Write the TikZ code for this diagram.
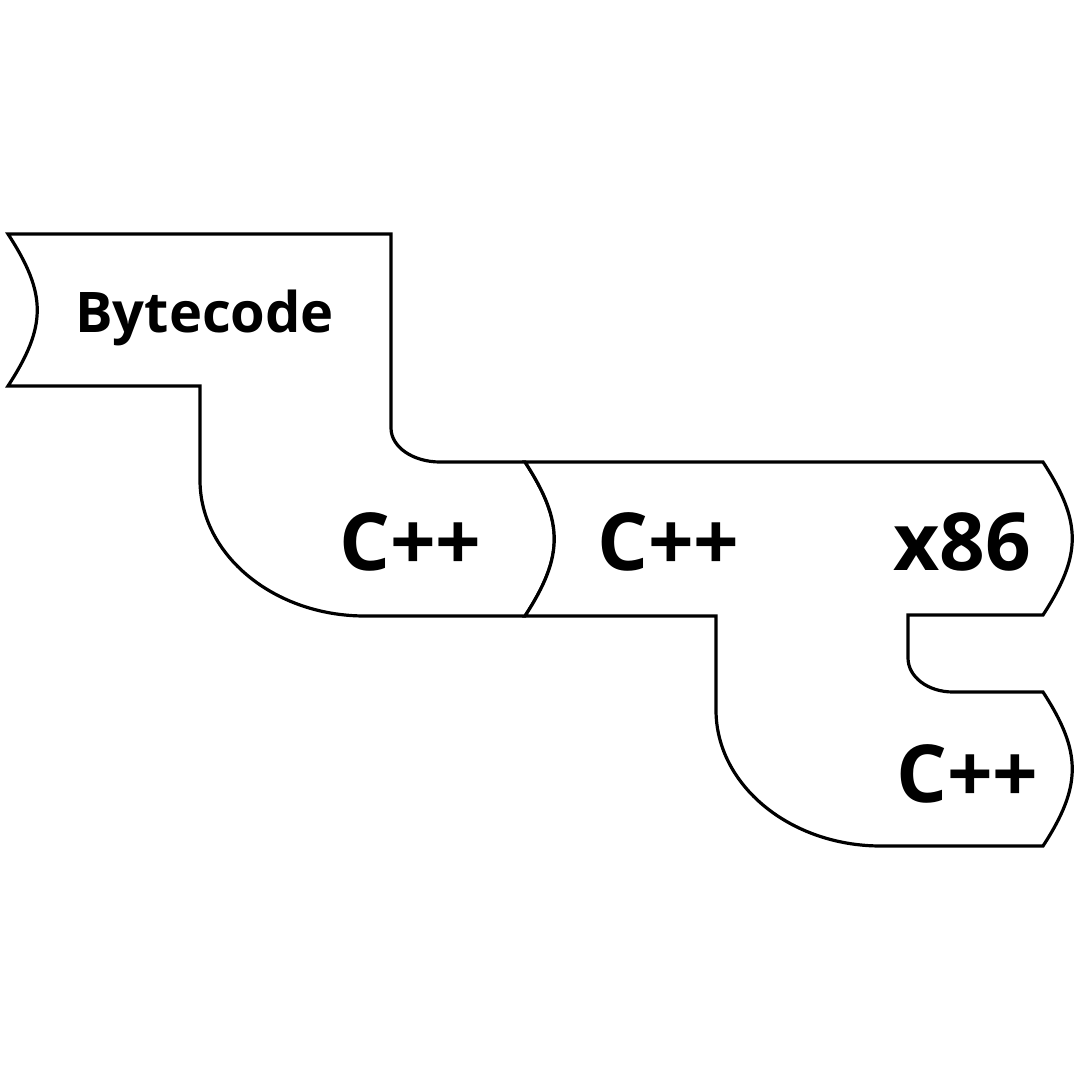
\documentclass[tikz,border=0pt]{standalone}
\usepackage{fontspec}
\setmainfont{Open Sans}
\begin{document}
\begin{tikzpicture}[x=1pt,y=-1pt,
  tshape/.style={draw=black,line width=3.2pt,line join=miter,fill=white},
  big/.style={inner sep=0pt,anchor=base west,font=\bfseries\fontsize{80}{84}\selectfont},
  small/.style={inner sep=0pt,anchor=base west,font=\bfseries\fontsize{56}{60}\selectfont}]
\useasboundingbox[fill=white] (0,0) rectangle (1080,1080);
% shape 1: Bytecode -> C++
\draw[tshape] (8,234) -- (391,234) -- (391,428)
  .. controls (391,447) and (413,462) .. (440,462) -- (525,462)
  .. controls (564,522) and (564,556) .. (525,616) -- (365,616)
  .. controls (274,616) and (200,555) .. (200,480) -- (200,386) -- (8,386)
  .. controls (47,326) and (47,294) .. (8,234) -- cycle;
% shape 2: C++ -> x86 in C++
\draw[tshape] (525,462) -- (1043,462)
  .. controls (1082,522) and (1082,555) .. (1043,615) -- (908,615) -- (908,658)
  .. controls (908,677) and (928,692) .. (953,692) -- (1043,692)
  .. controls (1082,752) and (1082,786) .. (1043,846) -- (881,846)
  .. controls (790,846) and (716,785) .. (716,710) -- (716,616) -- (525,616)
  .. controls (564,556) and (564,522) .. (525,462) -- cycle;
\node[small] (bc) at (75,332) {Bytecode};
\node[big] (c1) at (339,570) {C++};
\node[big] (c2) at (597,570) {C++};
\node[big] (x86) at (893,570) {x86};
\node[big] (c3) at (896,802) {C++};
\end{tikzpicture}
\end{document}
